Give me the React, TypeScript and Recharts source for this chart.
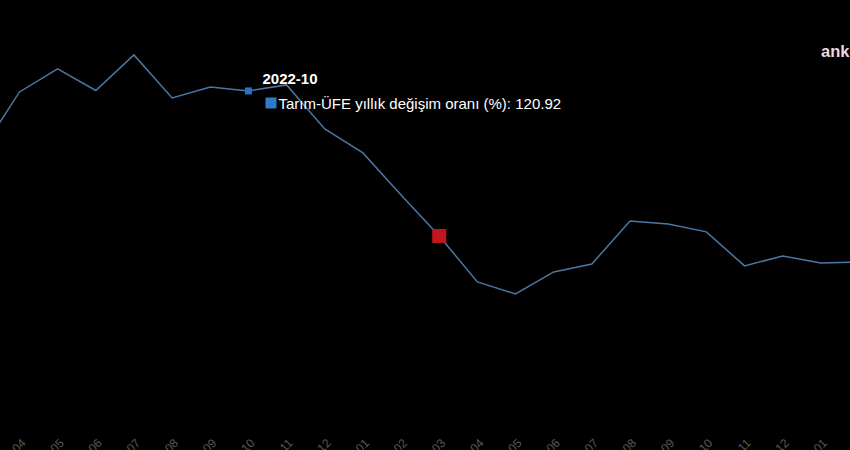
import React from 'react';
import { LineChart, Line, XAxis, YAxis, Tooltip, ReferenceDot } from 'recharts';

const months = [
  '2022-03', '2022-04', '2022-05', '2022-06', '2022-07', '2022-08', '2022-09', '2022-10',
  '2022-11', '2022-12', '2023-01', '2023-02', '2023-03', '2023-04', '2023-05', '2023-06',
  '2023-07', '2023-08', '2023-09', '2023-10', '2023-11', '2023-12', '2024-01', '2024-02',
];
const values = [
  96.56, 120.51, 129.85, 121.1, 135.54, 118.08, 122.54, 120.92,
  123.36, 105.49, 95.75, 78.7, 62.05, 43.37, 38.5, 47.43,
  50.68, 68.1, 66.9, 63.7, 49.9, 53.9, 51.1, 51.5,
];
const seriesName = 'Tarım-ÜFE yıllık değişim oranı (%)';
const tooltipIndex = 7;
const highlightIndex = 12;

const data = months.map((m, i) => ({ month: m, value: values[i] }));

const FONT = '"Liberation Sans", Arial, sans-serif';
const LINE = '#4b77a3';

const MonthTick = (props: any) => {
  const { x, y, payload } = props;
  const ax = x + 7;
  const ay = y + 47;
  return (
    <text
      x={ax}
      y={ay}
      transform={`rotate(-45, ${ax}, ${ay})`}
      textAnchor="end"
      fontSize={12}
      fontFamily={FONT}
      fill="#585858"
    >
      {payload.value}
    </text>
  );
};

const SquareMark = (size: number, color: string) => (props: any) => {
  const { cx, cy } = props;
  if (cx == null || cy == null) return <g />;
  return <rect x={cx - size / 2} y={cy - size / 2} width={size} height={size} fill={color} />;
};

const TooltipBox = ({ active, payload, label }: any) => {
  if (!active || !payload || !payload.length) return null;
  return (
    <div style={{ color: '#fff', fontFamily: FONT, fontSize: 15, lineHeight: '17px', whiteSpace: 'nowrap' }}>
      <div style={{ fontWeight: 'bold' }}>{label}</div>
      <div style={{ display: 'flex', alignItems: 'center', marginTop: 8, paddingLeft: 3 }}>
        <span style={{ display: 'inline-block', width: 11, height: 11, background: '#2f7cc4', marginRight: 2 }} />
        <span>{`${seriesName}: ${payload[0].value.toFixed(2)}`}</span>
      </div>
    </div>
  );
};

export default function App() {
  return (
    <div
      style={{
        position: 'absolute',
        left: 0,
        top: 0,
        width: 850,
        height: 450,
        overflow: 'hidden',
        background: '#000',
      }}
    >
      <div style={{ position: 'absolute', left: -40, top: 0 }}>
        <LineChart
          width={919}
          height={500}
          data={data}
          margin={{ top: 19.3, right: 20, left: 21.3, bottom: 0 }}
        >
          <XAxis
            dataKey="month"
            interval={0}
            axisLine={false}
            tickLine={false}
            height={111.2}
            padding={{ left: 0, right: 0 }}
            tick={<MonthTick />}
          />
          <YAxis hide domain={[0, 150]} />
          <Tooltip
            active
            defaultIndex={tooltipIndex}
            cursor={false}
            isAnimationActive={false}
            position={{ x: 302.5, y: 69.5 }}
            wrapperStyle={{ outline: 'none' }}
            content={<TooltipBox />}
          />
          <Line
            type="linear"
            dataKey="value"
            name={seriesName}
            stroke={LINE}
            strokeWidth={1.5}
            dot={false}
            activeDot={SquareMark(7, '#2a72bd')}
            isAnimationActive={false}
          />
          <ReferenceDot
            x={months[highlightIndex]}
            y={values[highlightIndex]}
            shape={SquareMark(14, '#c1161e')}
          />
        </LineChart>
      </div>
      <div
        style={{
          position: 'absolute',
          left: 821,
          top: 42,
          color: '#efd8dc',
          fontFamily: FONT,
          fontWeight: 'bold',
          fontSize: 16.5,
          whiteSpace: 'nowrap',
        }}
      >
        ank haber
      </div>
    </div>
  );
}
